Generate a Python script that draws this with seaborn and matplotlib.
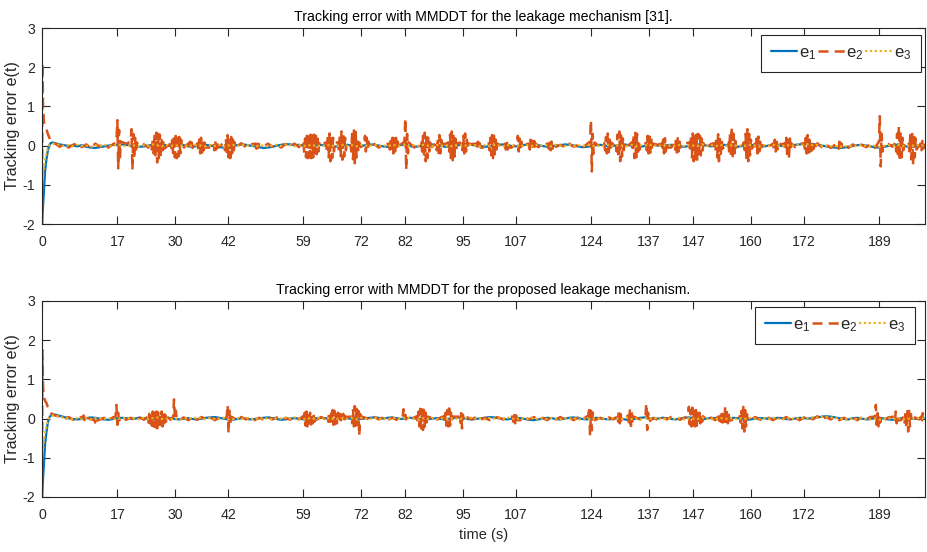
import numpy as np
import pandas as pd
import matplotlib
matplotlib.use("Agg")
import matplotlib.pyplot as plt
import seaborn as sns

# ---- data ----
xticks = [0, 17, 30, 42, 59, 72, 82, 95, 107, 124, 137, 147, 160, 172, 189]
yticks = [-2, -1, 0, 1, 2, 3]
titles = ["Tracking error with MMDDT for the leakage mechanism [31].",
          "Tracking error with MMDDT for the proposed leakage mechanism."]
labels = [r"$\mathregular{e_1}$", r"$\mathregular{e_2}$", r"$\mathregular{e_3}$"]

# start-up transient (s) and steady part sampled every second from t=3 to 199
t_early = [0, 0.1, 0.25, 0.45, 0.7, 1.0, 1.3, 1.6, 2.0, 2.5]
t_grid = list(range(3, 200))

top_e1_early = [-2.0, -1.8, -1.45, -1.05, -0.65, -0.35, -0.15, 0.0, 0.07, 0.08]
top_e2_early = [-2.0, 2.1, 0.9, 0.6, 0.5, 0.42, 0.3, 0.22, 0.1, 0.05]
top_e3_early = [-1.0, -0.9, -0.75, -0.55, -0.35, -0.2, -0.08, 0.0, 0.04, 0.05]
bot_e1_early = [-2.0, -1.8, -1.45, -1.05, -0.65, -0.35, -0.12, 0.02, 0.08, 0.1]
bot_e2_early = [-2.0, 1.75, 0.8, 0.55, 0.45, 0.4, 0.3, 0.25, 0.15, 0.1]
bot_e3_early = [-1.0, -0.9, -0.75, -0.55, -0.35, -0.2, -0.06, 0.02, 0.06, 0.08]

top_e1 = [0.06, 0.03, 0.01, -0.01, 0.00, -0.02, 0.01, -0.03, -0.05, -0.06, -0.04, -0.02, 0.00, 0.02, 0.01, 0.03, 0.02, 0.00, -0.01, -0.03,
          -0.02, 0.00, 0.02, 0.04, 0.03, 0.01, -0.01, 0.00, 0.02, 0.01, -0.02, -0.03, -0.01, 0.01, 0.02, 0.00, -0.02, -0.04, -0.05, -0.03,
          -0.01, 0.01, 0.03, 0.02, 0.00, -0.02, -0.04, -0.06, -0.05, -0.03, 0.00, 0.02, 0.04, 0.03, 0.01, 0.02, 0.00, -0.02, -0.01, 0.01,
          0.02, 0.00, -0.02, -0.03, -0.01, 0.01, 0.02, 0.00, -0.02, -0.01, 0.01, 0.03, 0.02, 0.00, -0.02, -0.03, -0.02, 0.00, 0.02, 0.01,
          -0.01, -0.03, -0.02, 0.00, 0.02, 0.03, 0.01, -0.01, -0.03, -0.02, 0.00, 0.01, 0.03, 0.04, 0.02, 0.00, -0.01, -0.03, -0.02, 0.00,
          0.02, 0.03, 0.01, -0.01, -0.02, 0.00, 0.02, 0.04, 0.03, 0.01, -0.01, -0.03, -0.02, 0.00, 0.01, 0.03, 0.02, 0.00, -0.02, -0.04,
          -0.03, -0.01, 0.01, 0.02, 0.00, -0.02, -0.01, 0.01, 0.03, 0.02, 0.00, -0.02, -0.03, -0.01, 0.01, 0.02, 0.00, -0.01, 0.01, 0.02,
          0.00, -0.02, -0.03, -0.01, 0.01, 0.03, 0.02, 0.00, -0.02, -0.01, 0.01, 0.02, 0.00, -0.02, -0.03, -0.01, 0.01, 0.02, 0.01, -0.01,
          -0.02, 0.00, 0.02, 0.01, -0.01, -0.02, 0.00, 0.02, 0.03, 0.04, 0.05, 0.04, 0.02, 0.00, -0.02, -0.04, -0.05, -0.06, -0.05, -0.03,
          -0.01, 0.01, 0.02, 0.00, -0.02, -0.04, -0.05, -0.03, -0.01, 0.01, 0.02, 0.00, -0.02, -0.03, -0.01, 0.01, 0.02]
top_e3 = [0.04, 0.02, -0.01, 0.01, -0.02, 0.02, -0.01, 0.00, -0.03, 0.01, -0.02, 0.02, 0.00, -0.01, 0.03, 0.01, -0.02, 0.02, 0.00, -0.02,
          0.01, -0.01, 0.03, 0.01, -0.02, 0.02, 0.00, -0.01, 0.02, -0.02, 0.01, -0.01, 0.02, 0.00, -0.02, 0.01, -0.01, 0.02, -0.03, 0.00,
          0.02, -0.01, 0.01, 0.03, -0.01, 0.00, -0.02, 0.01, -0.03, 0.00, 0.02, -0.01, 0.03, 0.01, -0.02, 0.02, -0.01, 0.00, 0.02, -0.02,
          0.01, -0.01, 0.02, -0.02, 0.00, 0.02, -0.01, 0.01, -0.02, 0.02, 0.00, -0.01, 0.03, -0.01, 0.01, -0.02, 0.02, 0.00, -0.01, 0.02,
          -0.02, 0.01, -0.01, 0.02, 0.00, -0.02, 0.02, -0.01, 0.01, -0.03, 0.01, 0.00, 0.02, -0.01, 0.03, 0.00, -0.02, 0.01, -0.01, 0.02,
          0.00, -0.02, 0.02, -0.01, 0.01, -0.02, 0.02, 0.00, -0.01, 0.03, -0.01, 0.01, -0.02, 0.02, 0.00, -0.01, 0.02, -0.02, 0.01, -0.01,
          0.02, 0.00, -0.02, 0.01, -0.01, 0.02, -0.02, 0.01, 0.00, -0.01, 0.02, -0.02, 0.01, 0.00, 0.03, -0.01, 0.01, -0.02, 0.02, 0.00,
          -0.01, 0.02, -0.02, 0.01, 0.00, -0.01, 0.03, -0.01, 0.01, -0.02, 0.02, 0.00, -0.01, 0.02, -0.02, 0.01, -0.01, 0.02, 0.00, -0.02,
          0.01, -0.01, 0.02, 0.00, -0.02, 0.02, -0.01, 0.01, 0.03, 0.02, 0.04, 0.01, 0.02, -0.01, 0.00, -0.02, -0.01, -0.03, -0.01, -0.02,
          0.00, -0.01, 0.02, -0.01, -0.02, 0.00, -0.03, -0.01, 0.01, -0.01, 0.02, 0.00, -0.02, 0.01, -0.01, 0.02, 0.00]
top_e2_quiet = [0.05, -0.03, 0.04, -0.05, 0.02, 0.06, -0.04, 0.03, -0.06, 0.05, -0.02, 0.04, -0.05, 0.03, 0.02, -0.04, 0.05, -0.03, 0.04, -0.02,
                0.03, -0.05, 0.04, -0.02, 0.05, -0.04, 0.02, -0.03, 0.05, -0.05, 0.03, -0.02, 0.04, -0.04, 0.02, -0.05, 0.04, -0.03, 0.02, -0.04,
                0.05, -0.03, 0.06, -0.04, 0.03, -0.06, 0.04, -0.02, 0.05, -0.03, 0.02, -0.05, 0.04, -0.03, 0.05, -0.04, 0.03, -0.02, 0.04, -0.05,
                0.03, -0.04, 0.05, -0.03, 0.02, -0.05, 0.04, -0.02, 0.03, -0.04, 0.05, -0.03, 0.04, -0.05, 0.02, -0.03, 0.05, -0.04, 0.03, -0.02,
                0.04, -0.05, 0.03, -0.02, 0.05, -0.04, 0.02, -0.03, 0.04, -0.05, 0.03, -0.02, 0.05, -0.03, 0.04, -0.04, 0.02, -0.05, 0.03, -0.02,
                0.05, -0.04, 0.03, -0.05, 0.02, -0.03, 0.04, -0.02, 0.05, -0.04, 0.03, -0.05, 0.04, -0.03, 0.02, -0.04, 0.05, -0.03, 0.02, -0.05,
                0.04, -0.02, 0.05, -0.04, 0.03, -0.03, 0.02, -0.05, 0.04, -0.03, 0.05, -0.02, 0.03, -0.04, 0.05, -0.03, 0.02, -0.04, 0.03, -0.05,
                0.02, -0.04, 0.05, -0.03, 0.04, -0.02, 0.03, -0.05, 0.04, -0.04, 0.02, -0.03, 0.05, -0.04, 0.03, -0.02, 0.04, -0.05, 0.03, -0.03,
                0.05, -0.02, 0.04, -0.05, 0.03, -0.03, 0.02, -0.04, 0.05, -0.03, 0.08, -0.02, 0.06, -0.04, 0.03, -0.06, 0.02, -0.08, 0.01, -0.06,
                0.03, -0.05, 0.02, -0.04, 0.03, -0.06, 0.02, -0.05, 0.04, -0.03, 0.05, -0.04, 0.03, -0.05, 0.04, -0.02, 0.03]

bot_e1 = [0.10, 0.07, 0.04, 0.01, -0.01, -0.02, -0.01, 0.01, 0.03, 0.02, 0.00, -0.02, -0.03, -0.01, 0.01, 0.02, 0.01, -0.01, 0.00, 0.02,
          0.01, -0.01, -0.02, 0.00, 0.02, 0.03, 0.01, -0.01, -0.02, 0.00, 0.01, -0.01, -0.02, 0.00, 0.02, 0.03, 0.04, 0.02, 0.00, -0.02,
          -0.03, -0.01, 0.01, 0.00, -0.02, -0.01, 0.01, 0.02, 0.03, 0.01, -0.01, -0.03, -0.02, 0.00, 0.01, 0.00, -0.02, -0.03, -0.01, 0.01,
          0.02, 0.01, -0.01, -0.02, 0.00, 0.02, 0.01, -0.01, -0.02, -0.01, 0.01, 0.02, 0.03, 0.02, 0.00, 0.02, 0.03, 0.01, -0.01, 0.00,
          0.02, 0.01, -0.01, -0.03, -0.02, 0.00, 0.01, -0.01, -0.02, 0.00, 0.02, 0.03, 0.01, -0.01, -0.02, -0.01, 0.01, 0.02, 0.04, 0.03,
          0.01, -0.01, -0.02, 0.00, 0.02, 0.01, -0.01, -0.03, -0.04, -0.02, 0.00, 0.02, 0.01, -0.01, -0.02, 0.00, 0.02, 0.03, 0.01, -0.01,
          -0.02, 0.00, 0.02, 0.01, -0.01, -0.02, 0.00, 0.01, -0.01, -0.03, -0.02, 0.00, 0.02, 0.03, 0.01, -0.01, 0.00, 0.02, 0.01, -0.01,
          -0.02, 0.00, 0.02, 0.03, 0.01, -0.01, -0.02, 0.00, 0.02, 0.01, -0.01, -0.02, 0.00, 0.02, 0.01, -0.01, -0.03, -0.02, 0.00, 0.01,
          0.01, -0.01, 0.00, 0.02, 0.01, -0.01, -0.02, 0.00, 0.02, 0.01, 0.00, 0.02, 0.03, 0.05, 0.06, 0.05, 0.03, 0.01, -0.01, -0.02,
          0.01, 0.02, 0.00, -0.02, -0.01, 0.01, 0.02, 0.00, -0.02, -0.03, -0.01, 0.01, 0.02, 0.00, -0.01, 0.01, 0.02]
bot_e3 = [0.08, 0.05, 0.02, 0.00, -0.02, 0.01, -0.01, 0.02, -0.02, 0.01, 0.00, -0.01, 0.02, -0.02, 0.01, 0.00, 0.02, -0.01, 0.01, -0.02,
          0.02, -0.01, 0.01, 0.03, -0.01, 0.00, -0.02, 0.01, -0.03, 0.00, 0.02, -0.01, 0.03, 0.01, -0.02, 0.02, -0.01, 0.00, 0.02, -0.02,
          -0.02, 0.01, -0.01, 0.02, 0.00, -0.02, 0.02, -0.01, 0.01, -0.03, 0.01, 0.00, 0.02, -0.01, 0.03, 0.00, -0.02, 0.01, -0.01, 0.02,
          0.01, -0.01, 0.02, -0.02, 0.00, 0.02, -0.01, 0.01, -0.02, 0.02, 0.00, -0.01, 0.03, -0.01, 0.01, -0.02, 0.02, 0.00, -0.01, 0.02,
          0.02, 0.00, -0.02, 0.01, -0.01, 0.02, -0.02, 0.01, 0.00, -0.01, 0.02, -0.02, 0.01, 0.00, 0.03, -0.01, 0.01, -0.02, 0.02, 0.00,
          0.01, -0.01, 0.03, 0.01, -0.02, 0.02, 0.00, -0.01, 0.02, -0.02, 0.01, -0.01, 0.02, 0.00, -0.02, 0.01, -0.01, 0.02, -0.03, 0.00,
          0.00, -0.02, 0.02, -0.01, 0.01, -0.02, 0.02, 0.00, -0.01, 0.03, -0.01, 0.01, -0.02, 0.02, 0.00, -0.01, 0.02, -0.02, 0.01, -0.01,
          -0.01, 0.02, -0.02, 0.01, 0.00, -0.01, 0.03, -0.01, 0.01, -0.02, 0.02, 0.00, -0.01, 0.02, -0.02, 0.01, -0.01, 0.02, 0.00, -0.02,
          0.01, -0.01, 0.02, 0.00, -0.02, 0.02, -0.01, 0.01, 0.00, 0.02, 0.01, 0.03, 0.02, 0.04, 0.05, 0.03, 0.02, 0.00, -0.01, -0.02,
          0.00, -0.01, 0.02, -0.01, -0.02, 0.00, -0.03, -0.01, 0.01, -0.01, 0.02, 0.00, -0.02, 0.01, -0.01, 0.02, 0.00]
bot_e2_quiet = [0.08, 0.05, -0.02, 0.04, -0.03, 0.02, -0.04, 0.03, -0.02, 0.04, -0.03, 0.02, -0.04, 0.03, -0.02, 0.04, -0.03, 0.02, -0.04, 0.03,
                -0.03, 0.04, -0.02, 0.03, -0.04, 0.02, -0.03, 0.04, -0.02, 0.03, -0.04, 0.02, -0.03, 0.04, -0.02, 0.03, -0.04, 0.02, -0.03, 0.04,
                0.02, -0.03, 0.04, -0.02, 0.03, -0.04, 0.02, -0.03, 0.04, -0.02, 0.03, -0.04, 0.02, -0.03, 0.04, -0.02, 0.03, -0.04, 0.02, -0.03,
                0.04, -0.02, 0.03, -0.04, 0.02, -0.03, 0.04, -0.02, 0.03, -0.04, 0.02, -0.03, 0.04, -0.02, 0.03, -0.04, 0.02, -0.03, 0.04, -0.02,
                -0.04, 0.03, -0.02, 0.04, -0.03, 0.02, -0.04, 0.03, -0.02, 0.04, -0.03, 0.02, -0.04, 0.03, -0.02, 0.04, -0.03, 0.02, -0.04, 0.03,
                0.03, -0.02, 0.04, -0.03, 0.02, -0.04, 0.03, -0.02, 0.04, -0.03, 0.02, -0.04, 0.03, -0.02, 0.04, -0.03, 0.02, -0.04, 0.03, -0.02,
                -0.02, 0.04, -0.03, 0.02, -0.04, 0.03, -0.02, 0.04, -0.03, 0.02, -0.04, 0.03, -0.02, 0.04, -0.03, 0.02, -0.04, 0.03, -0.02, 0.04,
                0.04, -0.03, 0.02, -0.04, 0.03, -0.02, 0.04, -0.03, 0.02, -0.04, 0.03, -0.02, 0.04, -0.03, 0.02, -0.04, 0.03, -0.02, 0.04, -0.03,
                -0.03, 0.02, -0.04, 0.03, -0.02, 0.04, -0.03, 0.02, -0.04, 0.03, 0.05, -0.02, 0.06, -0.03, 0.04, -0.02, 0.03, -0.04, 0.02, -0.03,
                0.02, -0.04, 0.03, -0.02, 0.04, -0.03, 0.02, -0.04, 0.03, -0.02, 0.04, -0.03, 0.02, -0.04, 0.03, -0.02, 0.03]

# oscillation bursts of e2: start time and samples every 0.2 s
top_burst_t = [16.8, 20.0, 24.6, 29.0, 33.0, 35.1, 38.7, 41.1, 48.2, 59.0, 64.1, 66.8, 69.6, 72.7, 78.3, 81.8,
               85.6, 88.9, 91.7, 94.7, 98.0, 100.8, 104.5, 107.2, 109.9, 114.2, 123.7, 126.9, 129.5, 133.1,
               136.3, 139.8, 142.7, 146.1, 151.8, 154.9, 158.4, 160.9, 165.0, 167.6, 172.0, 179.6, 188.9,
               192.6, 195.6, 198.3]
top_burst_v = [
    [0.1, 0.65, -0.58, 0.4, -0.3, 0.1],
    [0.1, 0.42, -0.62, 0.3, -0.35, 0.2, -0.15, 0.08],
    [0.05, -0.1, 0.15, -0.2, 0.25, -0.3, 0.33, -0.43, 0.3, -0.38, 0.28, -0.3, 0.2, -0.2, 0.12, -0.08],
    [0.05, -0.1, 0.18, -0.22, 0.28, -0.3, 0.33, -0.32, 0.3, -0.28, 0.22, -0.2, 0.15, -0.1],
    [0.05, -0.1, 0.1, -0.08, 0.08, -0.06, 0.05, -0.04],
    [0.06, -0.12, 0.15, -0.2, 0.2, -0.18, 0.15, -0.12, 0.08, -0.05],
    [0.06, -0.12, 0.12, -0.1, 0.08, -0.05],
    [0.08, -0.12, 0.18, -0.22, 0.27, -0.3, 0.25, -0.32, 0.22, -0.2, 0.15, -0.12, 0.08, -0.05],
    [0.05, -0.08, 0.08, -0.06, 0.04],
    [0.1, -0.2, 0.28, -0.3, 0.31, -0.32, 0.3, -0.3, 0.31, -0.32, 0.3, -0.3, 0.28, -0.28, 0.25, -0.22, 0.18, -0.15, 0.1],
    [0.08, -0.15, 0.25, -0.3, 0.31, -0.4, 0.28, -0.32, 0.2, -0.15, 0.08],
    [0.08, -0.15, 0.25, -0.3, 0.36, -0.36, 0.3, -0.28, 0.2, -0.12, 0.06],
    [0.08, -0.15, 0.3, -0.35, 0.42, -0.45, 0.35, -0.3, 0.2, -0.15, 0.08],
    [0.08, 0.25, -0.15, 0.2, -0.12, 0.1, -0.05],
    [0.05, -0.1, 0.12, -0.15, 0.2, -0.2, 0.18, -0.15, 0.2, -0.12, 0.1, -0.06],
    [0.1, 0.7, -0.62, 0.3, -0.2, 0.08],
    [0.08, -0.15, 0.25, -0.3, 0.33, -0.4, 0.3, -0.32, 0.2, -0.15, 0.08],
    [0.06, -0.12, 0.2, -0.24, 0.27, -0.2, 0.15, -0.1, 0.05],
    [0.08, -0.15, 0.28, -0.32, 0.36, -0.4, 0.3, -0.28, 0.18, -0.12, 0.06],
    [0.08, -0.12, 0.25, -0.2, 0.31, -0.15, 0.15, -0.08, 0.05],
    [0.05, -0.1, 0.1, -0.08, 0.06, -0.05],
    [0.06, -0.12, 0.2, -0.25, 0.27, -0.32, 0.25, -0.22, 0.15, -0.1, 0.05],
    [0.05, -0.1, 0.12, -0.1, 0.08, -0.05],
    [0.06, 0.25, -0.15, 0.18, -0.12, 0.1, -0.05],
    [0.05, -0.1, 0.15, -0.12, 0.12, -0.1, 0.12, -0.08, 0.05],
    [0.05, -0.08, 0.12, -0.12, 0.1, -0.08, 0.05],
    [0.1, 0.65, -0.66, 0.3, -0.2, 0.08],
    [0.06, -0.12, 0.22, -0.2, 0.31, -0.24, 0.2, -0.15, 0.08],
    [0.08, -0.15, 0.28, -0.32, 0.36, -0.4, 0.3, -0.28, 0.18, -0.12, 0.06],
    [0.08, -0.15, 0.28, -0.32, 0.36, -0.4, 0.3, -0.25, 0.15, -0.1, 0.05],
    [0.06, -0.12, 0.25, -0.2, 0.33, -0.18, 0.2, -0.1, 0.05],
    [0.05, -0.1, 0.15, -0.2, 0.19, -0.15, 0.1, -0.05],
    [0.05, -0.1, 0.18, -0.2, 0.23, -0.15, 0.1, -0.05],
    [0.08, -0.15, 0.25, -0.3, 0.31, -0.4, 0.3, -0.35, 0.28, -0.4, 0.3, -0.3, 0.25, -0.25, 0.18, -0.12, 0.06],
    [0.06, -0.15, 0.22, -0.3, 0.29, -0.4, 0.25, -0.25, 0.15, -0.08],
    [0.08, -0.15, 0.3, -0.25, 0.48, -0.32, 0.3, -0.2, 0.12, -0.05],
    [0.08, -0.2, 0.3, -0.35, 0.42, -0.4, 0.3, -0.25, 0.15, -0.08],
    [0.05, -0.12, 0.18, -0.2, 0.23, -0.15, 0.1, -0.05],
    [0.05, -0.1, 0.15, -0.15, 0.19, -0.1, 0.06],
    [0.06, -0.12, 0.2, -0.25, 0.23, -0.28, 0.18, -0.12, 0.05],
    [0.06, -0.12, 0.2, -0.2, 0.27, -0.18, 0.15, -0.15, 0.12, -0.12, 0.1, -0.08, 0.06, -0.05],
    [0.05, -0.08, 0.1, -0.08, 0.06, -0.04],
    [0.1, 0.75, -0.53, 0.3, -0.15, 0.05],
    [0.08, -0.15, 0.3, -0.3, 0.5, -0.4, 0.35, -0.3, 0.2, -0.12, 0.06],
    [0.08, -0.15, 0.3, -0.35, 0.36, -0.49, 0.3, -0.3, 0.18, -0.1],
    [0.05, -0.12, 0.12, -0.08, 0.05],
]
bot_burst_t = [9.2, 11.8, 16.6, 23.8, 29.6, 41.7, 58.9, 64.4, 69.8, 81.4, 84.6, 90.7, 94.2, 106.2,
               123.3, 129.8, 132.3, 136.2, 145.8, 152.4, 157.5, 188.0, 192.3, 194.5, 198.4]
bot_burst_v = [
    [0.04, 0.08, -0.04, 0.05],
    [-0.03, -0.1, 0.02, -0.05],
    [0.05, 0.35, -0.16, 0.15, -0.05],
    [0.05, -0.1, 0.12, -0.12, 0.15, -0.18, 0.18, -0.2, 0.15, -0.22, 0.18, -0.25, 0.16, -0.2, 0.12, -0.15, 0.18, -0.2, 0.15, -0.12, 0.1, -0.08, 0.06],
    [0.05, 0.49, 0.0, 0.2, 0.02],
    [0.05, 0.35, -0.37, 0.2, -0.15, 0.05],
    [0.06, -0.1, 0.15, -0.18, 0.18, -0.2, 0.16, -0.18, 0.15, -0.15, 0.12, -0.12, 0.1, -0.08, 0.06],
    [0.06, -0.08, 0.15, -0.08, 0.18, -0.12, 0.22, -0.16, 0.2, -0.14, 0.18, -0.12, 0.15, -0.1, 0.12, -0.1, 0.1, -0.08, 0.12, -0.1, 0.06],
    [0.06, -0.12, 0.25, -0.2, 0.32, -0.18, 0.25, -0.15, 0.2, -0.44, 0.12, -0.1, 0.05],
    [0.05, 0.24, 0.0, 0.1, -0.02],
    [0.06, -0.1, 0.18, -0.2, 0.25, -0.25, 0.3, -0.29, 0.22, -0.2, 0.15, -0.1, 0.05],
    [0.06, -0.1, 0.15, -0.18, 0.22, -0.2, 0.26, -0.18, 0.15, -0.1, 0.05],
    [0.05, -0.1, 0.14, -0.25, 0.1, -0.05],
    [0.05, -0.08, 0.14, -0.12, 0.08, -0.04],
    [0.08, 0.3, -0.44, 0.2, -0.3, 0.15, -0.05],
    [0.05, -0.1, 0.22, -0.12, 0.12, -0.06],
    [0.08, -0.15, 0.24, -0.27, 0.18, -0.12, 0.05],
    [0.05, 0.39, -0.29, 0.15, -0.08],
    [0.06, 0.3, -0.15, 0.22, -0.2, 0.28, -0.25, 0.25, -0.2, 0.22, -0.18, 0.2, -0.15, 0.15, -0.12, 0.1, -0.08, 0.06],
    [0.05, 0.14, -0.05, 0.1, -0.08, 0.12, -0.1, 0.2, -0.12, 0.3, -0.16, 0.22, -0.12, 0.1, -0.05],
    [0.06, -0.1, 0.2, -0.25, 0.3, -0.33, 0.22, -0.2, 0.12, -0.05],
    [0.05, 0.35, -0.16, 0.14, -0.2, 0.12, -0.1, 0.05],
    [0.05, -0.08, 0.18, -0.12, 0.1, -0.05],
    [0.06, -0.1, 0.18, -0.25, 0.24, -0.33, 0.2, -0.2, 0.12, -0.06],
    [0.05, -0.1, 0.14, -0.05],
]

colors = ["#0072BD", "#D95319", "#EDB120"]
ink = "#262626"


def series(early, steady):
    return pd.DataFrame({"t": t_early + t_grid, "e": early + steady})


def e2_series(early, quiet, starts, bursts, dt=0.2):
    spans = [(s, s + dt * (len(v) - 1)) for s, v in zip(starts, bursts)]
    pts = list(zip(t_early, early))
    pts += [(t, v) for t, v in zip(t_grid, quiet)
            if not any(a - 0.3 <= t <= b + 0.3 for a, b in spans)]
    for s, vals in zip(starts, bursts):
        pts += [(s + k * dt, v) for k, v in enumerate(vals)]
    pts.sort()
    return pd.DataFrame(pts, columns=["t", "e"])


panels = [
    (series(top_e1_early, top_e1), e2_series(top_e2_early, top_e2_quiet, top_burst_t, top_burst_v),
     series(top_e3_early, top_e3)),
    (series(bot_e1_early, bot_e1), e2_series(bot_e2_early, bot_e2_quiet, bot_burst_t, bot_burst_v),
     series(bot_e3_early, bot_e3)),
]

sns.set_style("ticks")
plt.rcParams["font.family"] = ["Liberation Sans", "DejaVu Sans"]
plt.rcParams["axes.unicode_minus"] = False

fig = plt.figure(figsize=(9.28, 5.52), dpi=100)
axes = [fig.add_axes([42 / 928, 1 - 224 / 552, 883 / 928, 196 / 552]),
        fig.add_axes([42 / 928, 1 - 497 / 552, 883 / 928, 196 / 552])]
legend_anchor = [(1 - 4 / 883, 1 - 7 / 196), (1 - 10 / 883, 1 - 6 / 196)]

for i, ax in enumerate(axes):
    d1, d2, d3 = panels[i]
    sns.lineplot(data=d1, x="t", y="e", ax=ax, color=colors[0], lw=1.6,
                 estimator=None, sort=False, label=labels[0])
    sns.lineplot(data=d2, x="t", y="e", ax=ax, color=colors[1], lw=1.8,
                 estimator=None, sort=False, label=labels[1])
    ax.lines[-1].set_linestyle((0, (4, 2.5)))
    sns.lineplot(data=d3, x="t", y="e", ax=ax, color=colors[2], lw=1.6,
                 estimator=None, sort=False, label=labels[2])
    ax.lines[-1].set_linestyle((0, (1, 1.2)))

    ax.set_xlim(0, 199.3)
    ax.set_ylim(-2, 3)
    ax.set_xticks(xticks)
    ax.set_yticks(yticks)
    ax.set_title(titles[i], fontsize=10.2, color="black", pad=5)
    ax.set_ylabel("Tracking error e(t)", fontsize=11.6, color=ink)
    ax.yaxis.set_label_coords(-22 / 883, 0.5)
    ax.set_xlabel("time (s)" if i == 1 else "", fontsize=10.5, color=ink, labelpad=4)
    ax.tick_params(direction="in", top=True, right=True, length=6, width=0.8,
                   color=ink, labelcolor=ink, labelsize=10.2, pad=8)
    ax.tick_params(axis="y", pad=5)
    for sp in ax.spines.values():
        sp.set_color(ink)
        sp.set_linewidth(0.8)
    leg = ax.legend(ncol=3, loc="upper right", bbox_to_anchor=legend_anchor[i], borderaxespad=0,
                    fancybox=False, framealpha=1, edgecolor=ink, fontsize=12,
                    handlelength=1.6, handletextpad=0.1, columnspacing=0.1, borderpad=0.6)
    leg.get_frame().set_linewidth(0.8)

fig.savefig("out.png", dpi=100)
